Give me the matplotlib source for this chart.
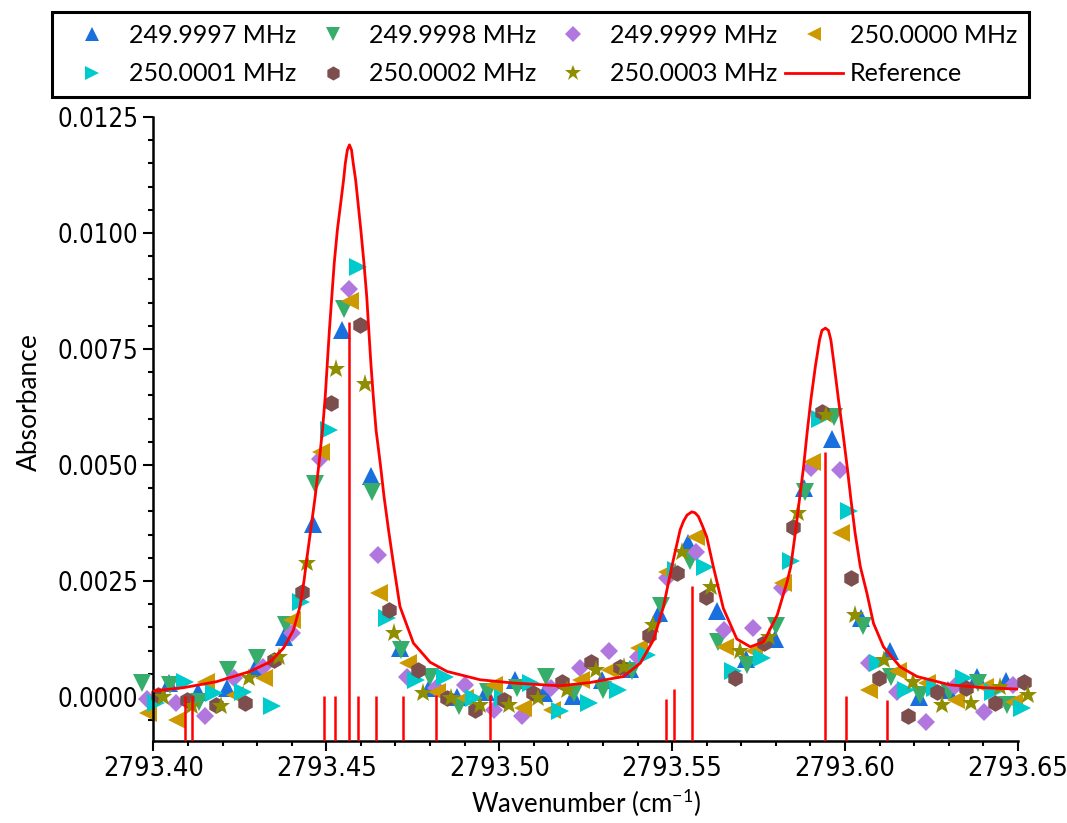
import matplotlib.pyplot as plt
from matplotlib.ticker import MultipleLocator, FormatStrFormatter
from matplotlib.font_manager import FontProperties

plt.rcParams['font.family'] = ['Lato', 'DejaVu Sans']
plt.rcParams['mathtext.fontset'] = 'custom'
plt.rcParams['mathtext.rm'] = 'Lato'
plt.rcParams['mathtext.default'] = 'regular'

# measured spectra, one list pair per repetition rate
wn_9997 = [2793.4045, 2793.4128, 2793.4212, 2793.4295, 2793.4379, 2793.4462, 2793.4545, 2793.4629,
           2793.4712, 2793.4796, 2793.4879, 2793.4962, 2793.5046, 2793.5129, 2793.5213, 2793.5296,
           2793.5379, 2793.5463, 2793.5546, 2793.5630, 2793.5713, 2793.5796, 2793.5880, 2793.5963,
           2793.6047, 2793.6130, 2793.6213, 2793.6297, 2793.6380, 2793.6464]
ab_9997 = [0.00030, 0.00010, 0.00020, 0.00062, 0.00130, 0.00372, 0.00790, 0.00476, 0.00106, 0.00019,
           0.00000, 0.00011, 0.00037, 0.00008, 0.00002, 0.00037, 0.00060, 0.00180, 0.00332, 0.00185,
           0.00082, 0.00125, 0.00450, 0.00556, 0.00170, 0.00100, 0.00000, 0.00016, 0.00042, 0.00035]

wn_9998 = [2793.3966, 2793.4049, 2793.4133, 2793.4216, 2793.4300, 2793.4383, 2793.4466, 2793.4550,
           2793.4633, 2793.4717, 2793.4800, 2793.4883, 2793.4967, 2793.5050, 2793.5134, 2793.5217,
           2793.5300, 2793.5384, 2793.5467, 2793.5551, 2793.5634, 2793.5717, 2793.5801, 2793.5884,
           2793.5968, 2793.6051, 2793.6134, 2793.6218, 2793.6301, 2793.6385, 2793.6468]
ab_9998 = [0.00030, 0.00025, -0.00010, 0.00058, 0.00083, 0.00155, 0.00460, 0.00836, 0.00441, 0.00101,
           0.00044, -0.00020, 0.00010, 0.00019, 0.00044, 0.00008, 0.00015, 0.00055, 0.00195, 0.00292,
           0.00118, 0.00069, 0.00152, 0.00442, 0.00604, 0.00152, 0.00044, 0.00004, 0.00010, 0.00030,
           -0.00017]

wn_9999 = [2793.3983, 2793.4066, 2793.4150, 2793.4233, 2793.4317, 2793.4400, 2793.4483, 2793.4567,
           2793.4650, 2793.4734, 2793.4817, 2793.4900, 2793.4984, 2793.5067, 2793.5151, 2793.5234,
           2793.5317, 2793.5401, 2793.5484, 2793.5568, 2793.5651, 2793.5734, 2793.5818, 2793.5901,
           2793.5985, 2793.6068, 2793.6151, 2793.6235, 2793.6318, 2793.6402, 2793.6485]
ab_9999 = [-0.00005, -0.00014, -0.00042, 0.00040, 0.00065, 0.00137, 0.00512, 0.00879, 0.00306, 0.00044,
           0.00020, 0.00026, -0.00028, -0.00042, 0.00020, 0.00062, 0.00098, 0.00087, 0.00256, 0.00313,
           0.00144, 0.00148, 0.00234, 0.00493, 0.00489, 0.00073, 0.00011, -0.00053, 0.00024, -0.00032,
           0.00026]

wn_0000 = [2793.3985, 2793.4068, 2793.4152, 2793.4235, 2793.4319, 2793.4402, 2793.4485, 2793.4569,
           2793.4652, 2793.4736, 2793.4819, 2793.4902, 2793.4986, 2793.5069, 2793.5153, 2793.5236,
           2793.5319, 2793.5403, 2793.5486, 2793.5570, 2793.5653, 2793.5736, 2793.5820, 2793.5903,
           2793.5987, 2793.6070, 2793.6153, 2793.6237, 2793.6320, 2793.6404, 2793.6487]
ab_0000 = [-0.00035, -0.00050, 0.00033, 0.00004, 0.00040, 0.00166, 0.00527, 0.00853, 0.00225, 0.00073,
           0.00011, -0.00003, 0.00026, -0.00024, -0.00028, 0.00037, 0.00058, 0.00105, 0.00270, 0.00345,
           0.00108, 0.00100, 0.00245, 0.00507, 0.00353, 0.00015, 0.00055, 0.00030, -0.00006, 0.00022,
           -0.00010]

wn_0001 = [2793.4009, 2793.4092, 2793.4176, 2793.4259, 2793.4343, 2793.4426, 2793.4509, 2793.4593,
           2793.4676, 2793.4760, 2793.4843, 2793.4926, 2793.5010, 2793.5093, 2793.5177, 2793.5260,
           2793.5343, 2793.5427, 2793.5510, 2793.5594, 2793.5677, 2793.5760, 2793.5844, 2793.5927,
           2793.6011, 2793.6094, 2793.6177, 2793.6261, 2793.6344, 2793.6428, 2793.6511]
ab_0001 = [-0.00014, 0.00033, 0.00008, 0.00011, -0.00020, 0.00205, 0.00575, 0.00927, 0.00170, 0.00037,
           0.00044, -0.00003, -0.00003, 0.00030, -0.00030, -0.00014, 0.00015, 0.00090, 0.00274, 0.00281,
           0.00055, 0.00083, 0.00292, 0.00600, 0.00400, 0.00073, 0.00015, 0.00020, 0.00040, 0.00010,
           -0.00024]

wn_0002 = [2793.4014, 2793.4097, 2793.4181, 2793.4264, 2793.4348, 2793.4431, 2793.4514, 2793.4598,
           2793.4681, 2793.4765, 2793.4848, 2793.4931, 2793.5015, 2793.5098, 2793.5182, 2793.5265,
           2793.5348, 2793.5432, 2793.5515, 2793.5599, 2793.5682, 2793.5765, 2793.5849, 2793.5932,
           2793.6016, 2793.6099, 2793.6182, 2793.6266, 2793.6349, 2793.6433, 2793.6516]
ab_0002 = [0.00004, -0.00006, -0.00017, -0.00012, 0.00080, 0.00227, 0.00633, 0.00801, 0.00188, 0.00058,
           -0.00003, -0.00028, -0.00006, 0.00008, 0.00033, 0.00076, 0.00065, 0.00134, 0.00267, 0.00216,
           0.00040, 0.00116, 0.00367, 0.00615, 0.00256, 0.00040, -0.00042, 0.00011, 0.00019, -0.00014,
           0.00033]

wn_0003 = [2793.4028, 2793.4111, 2793.4195, 2793.4278, 2793.4362, 2793.4445, 2793.4528, 2793.4612,
           2793.4695, 2793.4779, 2793.4862, 2793.4945, 2793.5029, 2793.5112, 2793.5196, 2793.5279,
           2793.5362, 2793.5446, 2793.5529, 2793.5613, 2793.5696, 2793.5779, 2793.5863, 2793.5946,
           2793.6030, 2793.6113, 2793.6196, 2793.6280, 2793.6363, 2793.6447, 2793.6530]
ab_0003 = [0.00000, -0.00020, -0.00020, 0.00040, 0.00087, 0.00289, 0.00707, 0.00674, 0.00137, 0.00008,
           -0.00003, -0.00017, -0.00017, -0.00003, 0.00015, 0.00058, 0.00065, 0.00155, 0.00313, 0.00238,
           0.00100, 0.00130, 0.00396, 0.00608, 0.00177, 0.00080, 0.00033, -0.00017, -0.00014, 0.00022,
           0.00004]

# reference (simulated) spectrum
ref_wn = [2793.4000, 2793.4087, 2793.4183, 2793.4280, 2793.4338, 2793.4376, 2793.4405, 2793.4424,
          2793.4436, 2793.4442, 2793.4455, 2793.4468, 2793.4479, 2793.4489, 2793.4497, 2793.4503,
          2793.4509, 2793.4516, 2793.4523, 2793.4532, 2793.4544, 2793.4550, 2793.4555, 2793.4561,
          2793.4567, 2793.4573, 2793.4578, 2793.4585, 2793.4590, 2793.4600, 2793.4609, 2793.4617,
          2793.4623, 2793.4629, 2793.4636, 2793.4644, 2793.4656, 2793.4667, 2793.4680, 2793.4694,
          2793.4713, 2793.4752, 2793.4800, 2793.4849, 2793.4945, 2793.5041, 2793.5176, 2793.5262,
          2793.5359, 2793.5408, 2793.5446, 2793.5475, 2793.5499, 2793.5523, 2793.5533, 2793.5543,
          2793.5557, 2793.5566, 2793.5576, 2793.5588, 2793.5600, 2793.5619, 2793.5648, 2793.5687,
          2793.5726, 2793.5765, 2793.5804, 2793.5833, 2793.5843, 2793.5856, 2793.5868, 2793.5880,
          2793.5890, 2793.5901, 2793.5914, 2793.5926, 2793.5933, 2793.5943, 2793.5952, 2793.5959,
          2793.5969, 2793.5981, 2793.5994, 2793.6006, 2793.6017, 2793.6029, 2793.6044, 2793.6063,
          2793.6082, 2793.6111, 2793.6159, 2793.6208, 2793.6304, 2793.6400, 2793.6500]
ref_ab = [0.00013, 0.00020, 0.00033, 0.00055, 0.00076, 0.00105, 0.00144, 0.00195,
          0.00252, 0.00288, 0.00360, 0.00432, 0.00504, 0.00575, 0.00647, 0.00719,
          0.00790, 0.00863, 0.00935, 0.01006, 0.01078, 0.01114, 0.01150, 0.01179,
          0.01190, 0.01179, 0.01150, 0.01114, 0.01078, 0.01006, 0.00935, 0.00863,
          0.00790, 0.00719, 0.00647, 0.00575, 0.00504, 0.00432, 0.00360, 0.00288,
          0.00195, 0.00116, 0.00075, 0.00055, 0.00037, 0.00030, 0.00024, 0.00031,
          0.00044, 0.00073, 0.00123, 0.00195, 0.00281, 0.00360, 0.00379, 0.00392,
          0.00399, 0.00397, 0.00389, 0.00368, 0.00345, 0.00281, 0.00191, 0.00125,
          0.00108, 0.00119, 0.00177, 0.00250, 0.00281, 0.00353, 0.00425, 0.00496,
          0.00568, 0.00640, 0.00712, 0.00769, 0.00790, 0.00795, 0.00790, 0.00769,
          0.00712, 0.00640, 0.00568, 0.00496, 0.00425, 0.00353, 0.00281, 0.00224,
          0.00159, 0.00108, 0.00065, 0.00044, 0.00026, 0.00020, 0.00017]

# line positions / intensities (stick spectrum)
stick_wn = [2793.4092, 2793.4111, 2793.4494, 2793.4526, 2793.4567, 2793.4593, 2793.4645, 2793.4723,
            2793.4817, 2793.4972, 2793.5481, 2793.5506, 2793.5558, 2793.5943, 2793.6002, 2793.6122]
stick_top = [0.00002, 0.00002, 0.00002, 0.00002, 0.00809, 0.00002, 0.00002, 0.00002,
             0.00004, 0.00004, -0.00004, 0.00018, 0.00239, 0.00529, 0.00001, -0.00006]

labels = ['249.9997 MHz', '249.9998 MHz', '249.9999 MHz', '250.0000 MHz',
          '250.0001 MHz', '250.0002 MHz', '250.0003 MHz']
ymin, ymax = -0.00095, 0.0125

fig = plt.figure(figsize=(10.67, 8.23), dpi=100)
ax = fig.add_axes([0.1437, 0.0996, 0.8104, 0.7582])

series = [
    (wn_9997, ab_9997, '^', '#1A6FDF', 12.5),
    (wn_9998, ab_9998, 'v', '#37AD6B', 12.5),
    (wn_9999, ab_9999, 'D', '#B177DE', 9),
    (wn_0000, ab_0000, '<', '#CC9900', 12.5),
    (wn_0001, ab_0001, '>', '#00CBCC', 12.5),
    (wn_0002, ab_0002, 'h', '#7D4E4E', 12),
    (wn_0003, ab_0003, '*', '#8E8E00', 14),
]
handles = []
for (x, y, m, c, s), lab in zip(series, labels):
    h, = ax.plot(x, y, ls='none', marker=m, ms=s, color=c, mew=0, label=lab, clip_on=False)
    handles.append(h)

ref, = ax.plot(ref_wn, ref_ab, color='#FF0000', lw=2.0, label='Reference', zorder=5)
handles.append(ref)
ax.vlines(stick_wn, ymin, stick_top, color='#FF0000', lw=1.8, zorder=5)

ax.set_xlim(2793.40, 2793.65)
ax.set_ylim(ymin, ymax)
ax.spines[['top', 'right']].set_visible(False)
ax.spines['left'].set_linewidth(1.8)
ax.spines['bottom'].set_linewidth(1.8)
ax.xaxis.set_major_locator(MultipleLocator(0.05))
ax.xaxis.set_minor_locator(MultipleLocator(0.01))
ax.yaxis.set_major_locator(MultipleLocator(0.0025))
ax.yaxis.set_minor_locator(MultipleLocator(0.0005))
ax.xaxis.set_major_formatter(FormatStrFormatter('%.2f'))
ax.yaxis.set_major_formatter(FormatStrFormatter('%.4f'))
ax.tick_params(which='major', direction='out', length=7.2, width=1.5, pad=3.5)
ax.tick_params(which='minor', direction='out', length=3.6, width=1.5)

tick_font_y = FontProperties(family='DejaVu Sans', stretch='condensed', size=18.5)
tick_font_x = FontProperties(family='DejaVu Sans', stretch='condensed', size=19.5)
plt.setp(ax.get_xticklabels(), fontproperties=tick_font_x)
plt.setp(ax.get_yticklabels(), fontproperties=tick_font_y)

ax.set_ylabel('Absorbance', fontsize=19)
ax.yaxis.set_label_coords(-0.129, 0.543)
ax.set_xlabel('Wavenumber (cm$^{-1}$)', fontsize=18.5, labelpad=4)

order = [0, 4, 1, 5, 2, 6, 3, 7]
leg = fig.legend([handles[i] for i in order], [handles[i].get_label() for i in order],
                 loc='upper left', bbox_to_anchor=(0.0487, 0.8846, 0.9157, 0.1008),
                 mode='expand', ncol=4, fontsize=18, frameon=True, fancybox=False,
                 edgecolor='black', framealpha=1, borderpad=0.47, labelspacing=0.62,
                 handlelength=2.3, handletextpad=0.3, borderaxespad=0, markerscale=0.85)
leg.get_frame().set_linewidth(2.2)

fig.savefig('out.png', dpi=100)
